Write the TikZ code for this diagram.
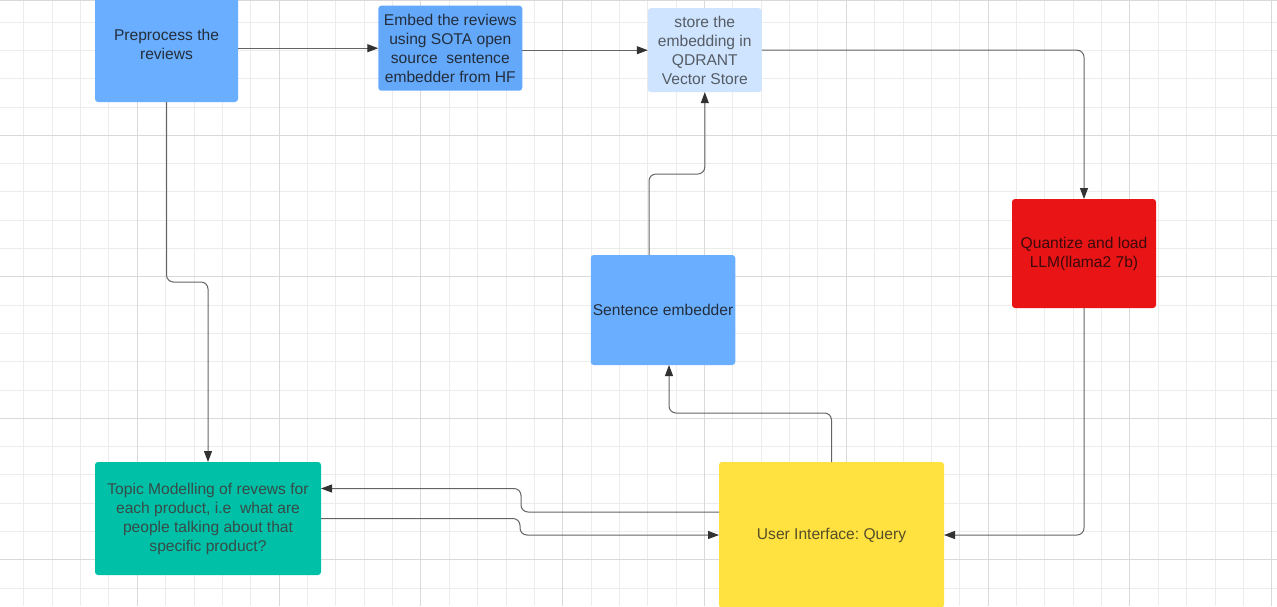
\documentclass[tikz,border=0pt]{standalone}
\usepackage{fontspec}
\setmainfont{Liberation Sans}
\frenchspacing
\usetikzlibrary{arrows.meta,calc}
\definecolor{preblue}{RGB}{106,175,255}
\definecolor{embblue}{RGB}{100,168,250}
\definecolor{storeblue}{RGB}{207,228,255}
\definecolor{llmred}{RGB}{232,20,22}
\definecolor{topicgreen}{RGB}{0,193,167}
\definecolor{uiyellow}{RGB}{255,225,64}
\definecolor{textdark}{RGB}{35,45,60}
\definecolor{storetext}{RGB}{85,92,100}
\definecolor{llmtext}{RGB}{60,10,10}
\definecolor{topictext}{RGB}{55,75,72}
\definecolor{uitext}{RGB}{85,78,40}
\definecolor{linegray}{RGB}{100,100,100}
\definecolor{tipgray}{RGB}{50,50,50}
\begin{document}
\begin{tikzpicture}
  [x=1pt, y=-1pt,
   box/.style={rounded corners=3pt, inner sep=2pt, outer sep=0pt, align=center,
     font=\fontsize{15.6}{19}\selectfont, text=textdark},
   flow/.style={draw=linegray, line width=1pt, rounded corners=7pt,
     -{Triangle[length=11pt,width=8pt,color=tipgray]}},
   minor/.style={draw=gray!15, line width=1pt},
   major/.style={draw=gray!30, line width=1pt}]
  \useasboundingbox (0,0) rectangle (1277,606);
  \clip (0,0) rectangle (1277,606);
  \foreach \i in {0,...,44} \draw[minor] (23.9+28.36*\i,0) -- ++(0,606);
  \foreach \j in {0,...,20} \draw[minor] (0,22.1+28.3*\j) -- ++(1277,0);
  \foreach \i in {4,9,...,44} \draw[major] (23.9+28.36*\i,0) -- ++(0,606);
  \foreach \j in {4,9,...,19} \draw[major] (0,22.1+28.3*\j) -- ++(1277,0);
  \draw[major] (0,0.5) -- (1277,0.5);

  \node[box, fill=preblue, minimum width=143pt, minimum height=115pt] (pre) at (166.5,44.5)
    {Preprocess the\\reviews};
  \node[box, fill=embblue, minimum width=144pt, minimum height=85pt] (emb) at (450.3,48.2)
    {Embed the reviews\\using SOTA open\\source\ \ sentence\\embedder from HF};
  \node[box, fill=storeblue, text=storetext, minimum width=114pt, minimum height=84pt] (sto) at (704.8,50.2)
    {store the\\embedding in\\QDRANT\\Vector Store};
  \node[box, fill=llmred, text=llmtext, minimum width=144pt, minimum height=109pt] (llm) at (1084,253.5)
    {Quantize and load\\LLM(llama2 7b)};
  \node[box, fill=preblue, minimum width=144pt, minimum height=110pt] (sen) at (663,310)
    {Sentence embedder};
  \node[box, fill=topicgreen, text=topictext, minimum width=226pt, minimum height=113pt] (topic) at (208,518.5)
    {Topic Modelling of revews for\\each product, i.e\ \ what are\\people talking about that\\specific product?};
  \node[box, fill=uiyellow, text=uitext, minimum width=225pt, minimum height=146pt] (ui) at (831.5,535)
    {User Interface: Query};

  \draw[flow] (pre.east |- emb.west) -- (emb.west);
  \draw[flow] (emb.east |- sto.west) -- (sto.west);
  \draw[flow] (sto.east) -| (llm.north);
  \draw[flow] (pre.south) -- ++(0,180) -| (topic.north);
  \draw[flow] ($(sen.north)+(-14,0)$) -- ++(0,-81) -| (sto.south);
  \draw[flow] (ui.north) -- ++(0,-49) -| ($(sen.south)+(6,0)$);
  \draw[flow] (llm.south) |- (ui.east);
  \draw[flow] ($(ui.west)+(0,-23)$) -| ++(-198,-23.5) -- ($(topic.east)+(0,-30)$);
  \draw[flow] (topic.east) -| ++(199,16.5) -- (ui.west);
\end{tikzpicture}
\end{document}
